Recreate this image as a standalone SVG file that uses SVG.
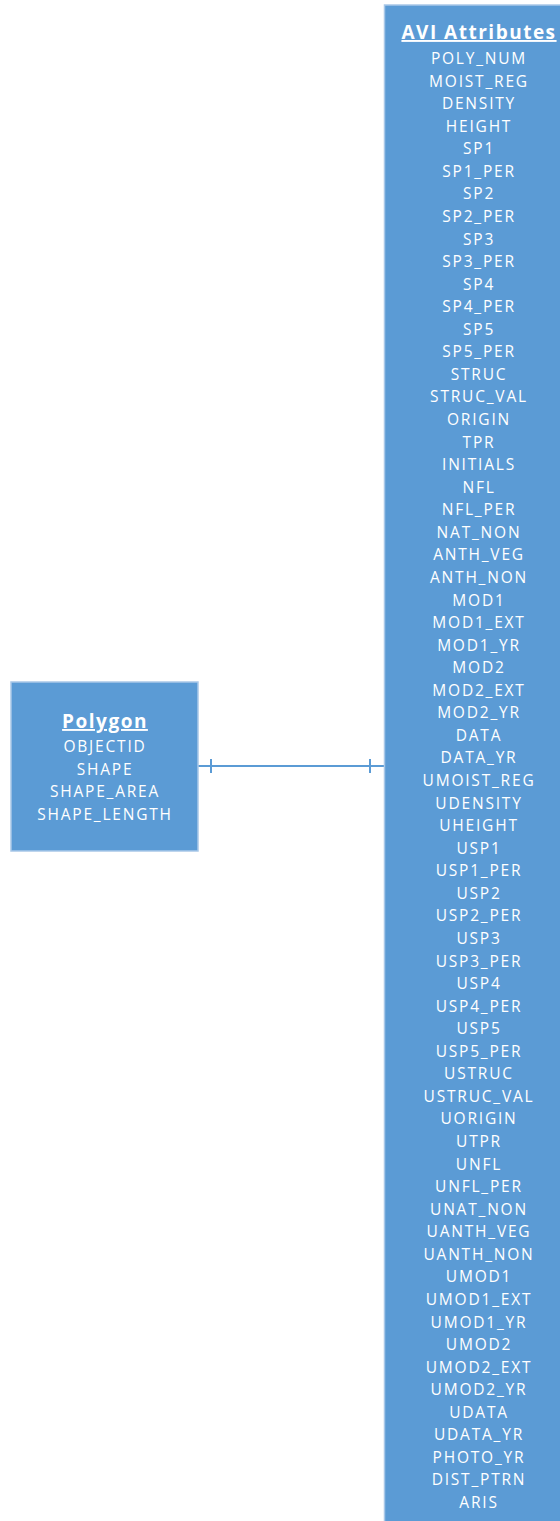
<svg xmlns="http://www.w3.org/2000/svg" width="560" height="1521" viewBox="0 0 560 1521">
<style>
.box{fill:#5b9bd5;stroke:#a9c8e8;stroke-width:1.5}
.t{font-family:"Open Sans","Liberation Sans",sans-serif;font-size:15.5px;fill:#ffffff;text-anchor:middle;letter-spacing:1.8px}
.h{font-family:"Open Sans","Liberation Sans",sans-serif;font-size:19px;font-weight:bold;fill:#ffffff;text-anchor:middle;text-decoration:underline;letter-spacing:1.5px}
.c{stroke:#5b9bd5;stroke-width:2;fill:none}
</style>
<rect width="560" height="1521" fill="#ffffff"/>
<g id="connectors">
<line class="c" x1="198" y1="766" x2="385" y2="766"/>
<line class="c" x1="211" y1="759" x2="211" y2="773"/>
<line class="c" x1="370" y1="759" x2="370" y2="773"/>
</g>
<g id="polygon">
<rect class="box" x="11" y="682" width="187" height="169"/>
<text class="h" x="105" y="728">Polygon</text>
<text class="t" x="105" y="752">OBJECTID</text>
<text class="t" x="105" y="774.5">SHAPE</text>
<text class="t" x="105" y="797">SHAPE_AREA</text>
<text class="t" x="105" y="819.5">SHAPE_LENGTH</text>
</g>
<g id="avi">
<rect class="box" x="384.5" y="5" width="180" height="1525"/>
<text class="h" x="479" y="39">AVI Attributes</text>
<text class="t" x="479" y="64">POLY_NUM</text>
<text class="t" x="479" y="86.56">MOIST_REG</text>
<text class="t" x="479" y="109.13">DENSITY</text>
<text class="t" x="479" y="131.69">HEIGHT</text>
<text class="t" x="479" y="154.25">SP1</text>
<text class="t" x="479" y="176.81">SP1_PER</text>
<text class="t" x="479" y="199.38">SP2</text>
<text class="t" x="479" y="221.94">SP2_PER</text>
<text class="t" x="479" y="244.5">SP3</text>
<text class="t" x="479" y="267.06">SP3_PER</text>
<text class="t" x="479" y="289.63">SP4</text>
<text class="t" x="479" y="312.19">SP4_PER</text>
<text class="t" x="479" y="334.75">SP5</text>
<text class="t" x="479" y="357.31">SP5_PER</text>
<text class="t" x="479" y="379.88">STRUC</text>
<text class="t" x="479" y="402.44">STRUC_VAL</text>
<text class="t" x="479" y="425">ORIGIN</text>
<text class="t" x="479" y="447.56">TPR</text>
<text class="t" x="479" y="470.13">INITIALS</text>
<text class="t" x="479" y="492.69">NFL</text>
<text class="t" x="479" y="515.25">NFL_PER</text>
<text class="t" x="479" y="537.81">NAT_NON</text>
<text class="t" x="479" y="560.38">ANTH_VEG</text>
<text class="t" x="479" y="582.94">ANTH_NON</text>
<text class="t" x="479" y="605.5">MOD1</text>
<text class="t" x="479" y="628.06">MOD1_EXT</text>
<text class="t" x="479" y="650.63">MOD1_YR</text>
<text class="t" x="479" y="673.19">MOD2</text>
<text class="t" x="479" y="695.75">MOD2_EXT</text>
<text class="t" x="479" y="718.31">MOD2_YR</text>
<text class="t" x="479" y="740.88">DATA</text>
<text class="t" x="479" y="763.44">DATA_YR</text>
<text class="t" x="479" y="786">UMOIST_REG</text>
<text class="t" x="479" y="808.56">UDENSITY</text>
<text class="t" x="479" y="831.13">UHEIGHT</text>
<text class="t" x="479" y="853.69">USP1</text>
<text class="t" x="479" y="876.25">USP1_PER</text>
<text class="t" x="479" y="898.81">USP2</text>
<text class="t" x="479" y="921.38">USP2_PER</text>
<text class="t" x="479" y="943.94">USP3</text>
<text class="t" x="479" y="966.5">USP3_PER</text>
<text class="t" x="479" y="989.06">USP4</text>
<text class="t" x="479" y="1011.63">USP4_PER</text>
<text class="t" x="479" y="1034.19">USP5</text>
<text class="t" x="479" y="1056.75">USP5_PER</text>
<text class="t" x="479" y="1079.31">USTRUC</text>
<text class="t" x="479" y="1101.88">USTRUC_VAL</text>
<text class="t" x="479" y="1124.44">UORIGIN</text>
<text class="t" x="479" y="1147">UTPR</text>
<text class="t" x="479" y="1169.56">UNFL</text>
<text class="t" x="479" y="1192.13">UNFL_PER</text>
<text class="t" x="479" y="1214.69">UNAT_NON</text>
<text class="t" x="479" y="1237.25">UANTH_VEG</text>
<text class="t" x="479" y="1259.81">UANTH_NON</text>
<text class="t" x="479" y="1282.38">UMOD1</text>
<text class="t" x="479" y="1304.94">UMOD1_EXT</text>
<text class="t" x="479" y="1327.5">UMOD1_YR</text>
<text class="t" x="479" y="1350.06">UMOD2</text>
<text class="t" x="479" y="1372.63">UMOD2_EXT</text>
<text class="t" x="479" y="1395.19">UMOD2_YR</text>
<text class="t" x="479" y="1417.75">UDATA</text>
<text class="t" x="479" y="1440.31">UDATA_YR</text>
<text class="t" x="479" y="1462.88">PHOTO_YR</text>
<text class="t" x="479" y="1485.44">DIST_PTRN</text>
<text class="t" x="479" y="1508">ARIS</text>
</g>
</svg>
